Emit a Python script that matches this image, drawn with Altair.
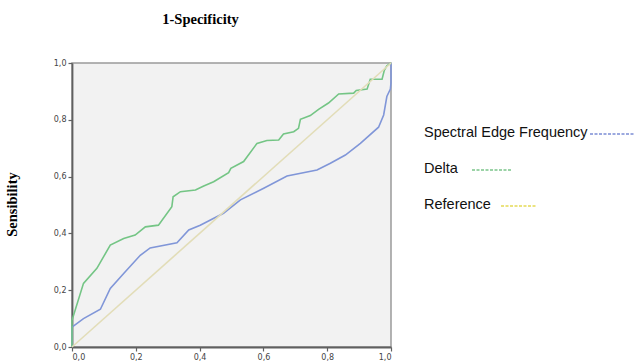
import altair as alt
import pandas as pd

# ROC curve coordinates (1-specificity, sensitivity)
sef_fpr = [0.0, 0.0, 0.036, 0.089, 0.120, 0.162, 0.214, 0.245, 0.329, 0.366, 0.402, 0.475,
           0.528, 0.601, 0.674, 0.768, 0.810, 0.857, 0.904, 0.961, 0.977, 0.987, 0.998, 1.0, 1.0]
sef_tpr = [0.0, 0.070, 0.100, 0.133, 0.206, 0.259, 0.323, 0.349, 0.367, 0.412, 0.429, 0.471,
           0.518, 0.559, 0.602, 0.623, 0.647, 0.676, 0.717, 0.774, 0.817, 0.882, 0.908, 0.930, 1.0]

delta_fpr = [0.0, 0.0, 0.036, 0.078, 0.120, 0.162, 0.198, 0.230, 0.271, 0.313, 0.317, 0.340,
             0.387, 0.413, 0.444, 0.491, 0.498, 0.538, 0.580, 0.611, 0.648, 0.663, 0.695, 0.710,
             0.716, 0.747, 0.773, 0.804, 0.836, 0.883, 0.891, 0.925, 0.935, 0.972, 0.979, 0.987, 1.0]
delta_tpr = [0.0, 0.094, 0.224, 0.277, 0.359, 0.382, 0.394, 0.423, 0.429, 0.494, 0.529, 0.547,
             0.553, 0.567, 0.582, 0.614, 0.629, 0.653, 0.717, 0.727, 0.729, 0.750, 0.758, 0.770,
             0.802, 0.815, 0.837, 0.859, 0.891, 0.894, 0.903, 0.908, 0.943, 0.943, 0.974, 0.990, 1.0]

ref_fpr = [0.0, 1.0]
ref_tpr = [0.0, 1.0]

series_names = ["Spectral Edge Frequency", "Delta", "Reference"]
line_colors = ["#8096d8", "#74c585", "#e2ddb8"]
key_colors = ["#3a55c0", "#38a850", "#d8c800"]

rows = []
for name, xs, ys in zip(series_names,
                        [sef_fpr, delta_fpr, ref_fpr],
                        [sef_tpr, delta_tpr, ref_tpr]):
    for i, (x, y) in enumerate(zip(xs, ys)):
        rows.append({"series": name, "fpr": x, "tpr": y, "idx": i})
df = pd.DataFrame(rows)

W, H = 319, 284
comma = "replace(format(datum.value, '.1f'), '.', ',')"

x_enc = alt.X("fpr:Q", scale=alt.Scale(domain=[0, 1], nice=False),
              axis=alt.Axis(values=[0, 0.2, 0.4, 0.6, 0.8, 1.0], labelExpr=comma,
                            title="1-Specificity", titleX=128, titleY=-328,
                            titleFont="Liberation Serif", titleFontSize=14.5,
                            titleFontWeight="bold", titleColor="#000",
                            titleAlign="center", titleBaseline="middle"))
y_enc = alt.Y("tpr:Q", scale=alt.Scale(domain=[0, 1], nice=False),
              axis=alt.Axis(values=[0, 0.2, 0.4, 0.6, 0.8, 1.0], labelExpr=comma,
                            title="Sensibility", titleX=-60, titleY=141, titleAngle=-90,
                            titleFont="Liberation Serif", titleFontSize=14.5,
                            titleFontWeight="bold", titleColor="#000",
                            titleAlign="center", titleBaseline="middle"))

curves = alt.Chart(df).mark_line(strokeWidth=1.6).encode(
    x=x_enc,
    y=y_enc,
    color=alt.Color("series:N", scale=alt.Scale(domain=series_names, range=line_colors),
                    legend=None),
    order=alt.Order("idx:Q"),
)

# hand-drawn key to the right of the plot: label followed by a dashed sample
key_layers = []
key_rows = [(352, 70, 518, 562), (352, 106, 400, 440), (352, 142, 429, 465)]
for name, col, (tx, ty, lx1, lx2) in zip(series_names, key_colors, key_rows):
    one = alt.Data(values=[{"k": name}])
    key_layers.append(
        alt.Chart(one).mark_text(align="left", baseline="middle", font="Liberation Sans",
                                 fontSize=14.5, color="#111").encode(
            x=alt.value(tx), y=alt.value(ty), text="k:N")
    )
    key_layers.append(
        alt.Chart(one).mark_rule(strokeWidth=1.2, strokeDash=[3, 1.5], color=col).encode(
            x=alt.value(lx1), x2=alt.value(lx2), y=alt.value(ty + 1))
    )

chart = alt.layer(curves, *key_layers).properties(
    width=W, height=H,
    autosize=alt.AutoSizeParams(type="none"),
    padding={"left": 72, "top": 63, "right": 243, "bottom": 15},
    background="white",
).configure_view(
    fill="#f2f2f2", stroke="#9a9a9a", strokeWidth=1.5,
).configure_axis(
    grid=False, domainColor="#606060", domainWidth=1.8,
    tickColor="#606060", tickSize=4, tickWidth=1.2,
    labelFont="DejaVu Sans", labelFontSize=8, labelColor="#444", labelPadding=2,
)

chart.save("out.html", embed_options={"renderer": "svg", "actions": False})
